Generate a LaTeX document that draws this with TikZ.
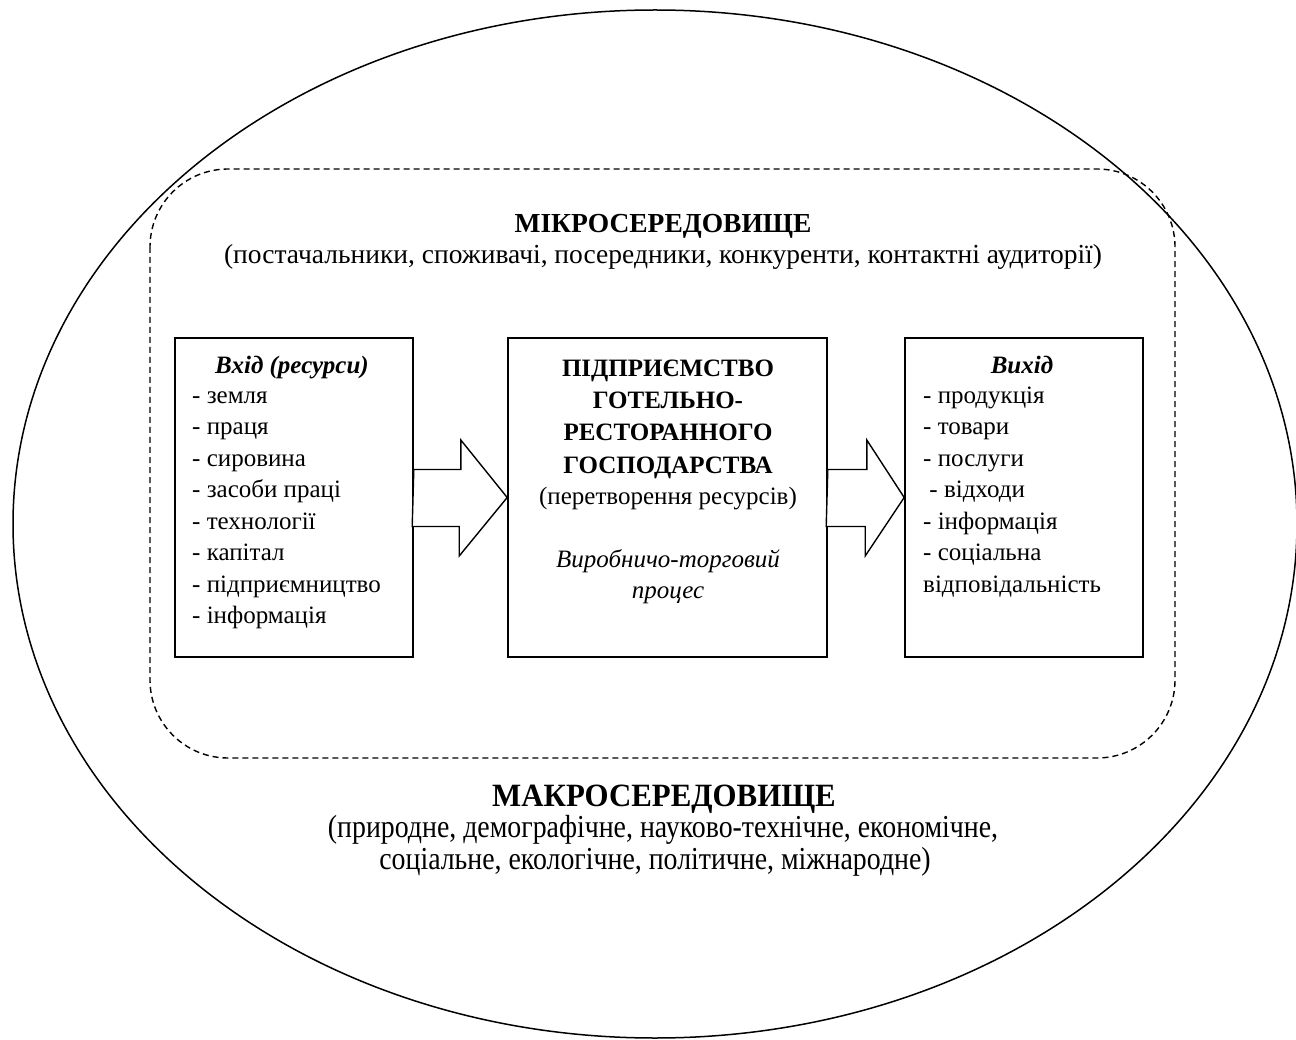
\documentclass[tikz,border=0pt]{standalone}
\usepackage{fontspec}
\usepackage{tikz}
\setmainfont{Liberation Serif}
\newfontfamily\narrowserif[FakeStretch=0.87]{Liberation Serif}
\newfontfamily\titleserif[FakeStretch=0.95]{Liberation Serif}

\begin{document}
\begin{tikzpicture}[x=1pt,y=-1pt,
  box/.style={draw, line width=1.6pt, inner sep=0pt},
  blockarrow/.style={draw, line width=1.4pt, fill=white, line join=miter},
  txt/.style={inner sep=0pt, font=\fontsize{25}{31.5}\selectfont},
  microtxt/.style={inner sep=0pt, font=\fontsize{27.5}{32}\selectfont},
  macrotxt/.style={inner sep=0pt, font=\narrowserif\fontsize{32}{32}\selectfont}]
\useasboundingbox (0,0) rectangle (1296,1040);
\draw[line width=1.5pt] (655,524) ellipse [x radius=642, y radius=514];
\draw[line width=1.4pt, dash pattern=on 6pt off 4pt, rounded corners=78pt] (150,169) rectangle (1175,758);

\node[microtxt, anchor=base] (microtitle) at (663,233) {\bfseries МІКРОСЕРЕДОВИЩЕ};
\node[microtxt, anchor=base] (microlist) at (663,264) {(постачальники, споживачі, посередники, конкуренти, контактні аудиторії)};

\node[box, minimum width=238pt, minimum height=319pt] (inbox) at (294,497.5) {};
\node[box, minimum width=319pt, minimum height=319pt] (process) at (667.5,497.5) {};
\node[box, minimum width=238pt, minimum height=319pt] (outbox) at (1024,497.5) {};

\node[txt, anchor=base] (inhead) at (292,374) {\bfseries\itshape Вхід (ресурси)};
\foreach \res [count=\i from 0] in {- земля, - праця, - сировина, - засоби праці, - технології, - капітал, - підприємництво, - інформація}
  \node[txt, anchor=base west] (in\i) at (192,{403+31.5*\i}) {\res};

\node[txt, anchor=base] (proc1) at (668,377) {\bfseries ПІДПРИЄМСТВО};
\node[txt, anchor=base] (proc2) at (668,409) {\bfseries ГОТЕЛЬНО-};
\node[txt, anchor=base] (proc3) at (668,441) {\bfseries РЕСТОРАННОГО};
\node[txt, anchor=base] (proc4) at (668,473) {\bfseries ГОСПОДАРСТВА};
\node[txt, anchor=base] (proc5) at (668,504) {(перетворення ресурсів)};
\node[txt, anchor=base] (proc6) at (668,567) {\itshape Виробничо-торговий};
\node[txt, anchor=base] (proc7) at (668,598) {\itshape процес};

\node[txt, anchor=base] (outhead) at (1022,374) {\bfseries\itshape Вихід};
\foreach \res [count=\i from 0] in {- продукція, - товари, - послуги, \ - відходи, - інформація, - соціальна, відповідальність}
  \node[txt, anchor=base west] (out\i) at (923,{403+31.5*\i}) {\res};

\draw[blockarrow] (inbox.east) ++(0,-28) -- ++(47,0) -- ++(0,-29.5) -- (process.west) -- ++(-48,58.5) -- ++(0,-29.5) -- ++(-47,0) -- cycle;
\draw[blockarrow] (process.east) ++(0,-28) -- ++(39,0) -- ++(0,-29.5) -- (outbox.west) -- ++(-39,58.5) -- ++(0,-29.5) -- ++(-39,0) -- cycle;

\node[macrotxt, anchor=base, font=\titleserif\fontsize{32.5}{32.5}\selectfont\bfseries] (macrotitle) at (664,806) {МАКРОСЕРЕДОВИЩЕ};
\node[macrotxt, anchor=base] (macrolist1) at (663,837) {(природне, демографічне, науково-технічне, економічне,};
\node[macrotxt, anchor=base] (macrolist2) at (655,869) {соціальне, екологічне, політичне, міжнародне)};
\end{tikzpicture}
\end{document}
